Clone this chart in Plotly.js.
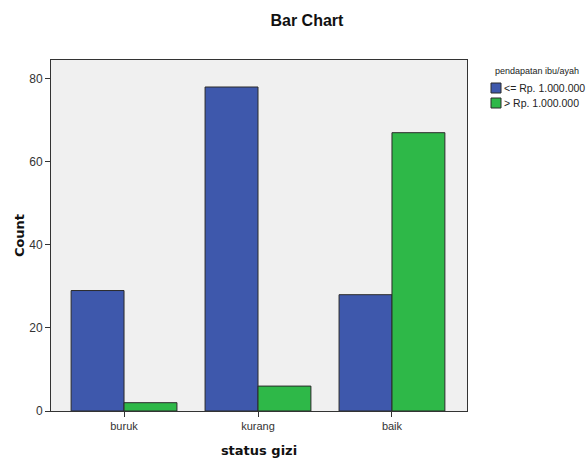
<!DOCTYPE html>
<html><head><meta charset="utf-8">
<script src="https://cdn.plot.ly/plotly-3.0.1.min.js"></script>
<style>body{margin:0;background:#fff}#c{width:588px;height:459px}</style>
</head><body><div id="c"></div>
<script>
const categories = ["buruk", "kurang", "baik"];
const seriesNames = ["<= Rp. 1.000.000", "> Rp. 1.000.000"];
const lowIncome = [29, 78, 28];
const highIncome = [2, 6, 67];
const yTicks = [0, 20, 40, 60, 80];
const legendTitle = "pendapatan ibu/ayah";
const colors = ["#3e58ac", "#2eb848"];

const traces = [
  {type: "bar", name: seriesNames[0], x: categories, y: lowIncome,
   marker: {color: colors[0], line: {color: "#2a2a2a", width: 1}}},
  {type: "bar", name: seriesNames[1], x: categories, y: highIncome,
   marker: {color: colors[1], line: {color: "#2a2a2a", width: 1}}}
];

// legend drawn in pixel-based paper coordinates (outside the plot)
const W = 588, H = 459, L = 51, R = 121, T = 60, B = 48;
const pw = W - L - R, ph = H - T - B;
const px = x => (x - L) / pw;
const py = y => (H - B - y) / ph;

const shapes = [], annotations = [];
annotations.push({xref: "paper", yref: "paper", x: px(493), y: py(71), xanchor: "left", yanchor: "middle",
  text: legendTitle, showarrow: false, font: {size: 9, color: "#222"}});
seriesNames.forEach((n, i) => {
  const cy = 88 + i * 15;
  shapes.push({type: "rect", xref: "paper", yref: "paper", x0: px(491), x1: px(501), y0: py(cy + 5), y1: py(cy - 5),
    fillcolor: colors[i], line: {color: "#2a2a2a", width: 1}});
  annotations.push({xref: "paper", yref: "paper", x: px(502), y: py(cy), xanchor: "left", yanchor: "middle",
    text: n.replace("<", "&lt;").replace(">", "&gt;"), showarrow: false, font: {size: 10.5, color: "#222"}});
});

const layout = {
  width: W, height: H,
  margin: {l: L, r: R, t: T, b: B, autoexpand: false},
  paper_bgcolor: "#ffffff", plot_bgcolor: "#f0f0f0",
  font: {family: "Liberation Sans, Arial, sans-serif", size: 11, color: "#333"},
  title: {text: "<b>Bar Chart</b>", x: 0.522, xref: "container", y: 0.955, yanchor: "middle",
          font: {size: 16, color: "#111", family: "Liberation Sans, Arial, sans-serif"}},
  barmode: "group", bargap: 0.21, bargroupgap: 0,
  showlegend: false,
  xaxis: {type: "category", range: [-0.545, 2.56], showline: true, linecolor: "#333", linewidth: 1,
          mirror: true, ticks: "outside", ticklen: 5, tickcolor: "#333", showgrid: false,
          tickfont: {size: 11, color: "#333"},
          title: {text: "<b>status gizi</b>", standoff: 14, font: {size: 13, color: "#111", family: "DejaVu Sans, sans-serif"}}},
  yaxis: {range: [0, 84.5], tickvals: yTicks, showline: true, linecolor: "#333", linewidth: 1,
          mirror: true, ticks: "outside", ticklen: 5, tickcolor: "#333", showgrid: false, zeroline: false,
          tickfont: {size: 12, color: "#333"},
          title: {text: "<b>Count</b>", standoff: 1, font: {size: 13, color: "#111", family: "DejaVu Sans, sans-serif"}}},
  shapes: shapes, annotations: annotations
};
Plotly.newPlot("c", traces, layout, {staticPlot: true});
</script></body></html>
